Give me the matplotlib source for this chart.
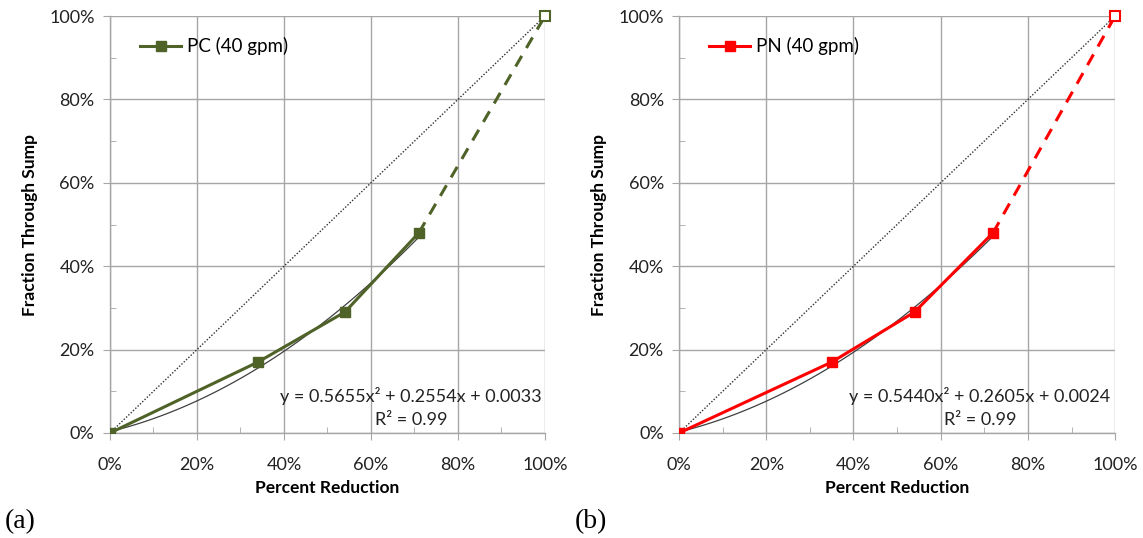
import numpy as np
import matplotlib
matplotlib.use("Agg")
import matplotlib.pyplot as plt
import matplotlib.ticker as mticker
from matplotlib.lines import Line2D

plt.rcParams["font.family"] = ["Lato", "DejaVu Sans"]

# Measured points (percent reduction vs fraction through sump)
pc_x = [0.0, 0.34, 0.54, 0.71]
pc_y = [0.0, 0.17, 0.29, 0.48]
pn_x = [0.0, 0.35, 0.54, 0.72]
pn_y = [0.0, 0.17, 0.29, 0.48]
end_pt = [1.0, 1.0]

# Quadratic trendline coefficients (a, b, c) and R^2
pc_fit = [0.5655, 0.2554, 0.0033]
pn_fit = [0.5440, 0.2605, 0.0024]
r2 = [0.99, 0.99]

C_PC = "#4F6228"
C_PN = "#FF0000"
C_GRID = "#A6A6A6"

fig = plt.figure(figsize=(11.43, 5.38), dpi=100)
ax_a = fig.add_axes([0.0962, 0.1952, 0.3806, 0.775])
ax_b = fig.add_axes([0.5941, 0.1952, 0.3815, 0.775])


def panel(ax, xs, ys, fit, rsq, color, label, eq_x):
    ax.plot([0, 1], [0, 1], color="#303030", linestyle=(0, (1, 1.3)),
            linewidth=1.0, zorder=2)
    xf = np.linspace(0, xs[-1], 100)
    a, b, c = fit
    ax.plot(xf, a * xf ** 2 + b * xf + c, color="#404040", linewidth=0.9, zorder=3)
    ax.plot(xs, ys, color=color, linewidth=2.2, marker="s", markersize=7,
            zorder=4)
    ax.plot([xs[-1], end_pt[0]], [ys[-1], end_pt[1]], color=color,
            linewidth=2.2, linestyle=(0, (4, 3)), zorder=4)
    ax.plot([end_pt[0]], [end_pt[1]], marker="s", markersize=7,
            markerfacecolor="white", markeredgecolor=color,
            markeredgewidth=1.5, linestyle="none", zorder=5, clip_on=False)

    ax.set_xlim(0, 1)
    ax.set_ylim(0, 1)
    ax.xaxis.set_major_locator(mticker.MultipleLocator(0.2))
    ax.yaxis.set_major_locator(mticker.MultipleLocator(0.2))
    ax.xaxis.set_minor_locator(mticker.MultipleLocator(0.1))
    ax.yaxis.set_minor_locator(mticker.MultipleLocator(0.1))
    fmt = mticker.PercentFormatter(xmax=1, decimals=0)
    ax.xaxis.set_major_formatter(fmt)
    ax.yaxis.set_major_formatter(fmt)
    ax.tick_params(which="major", direction="out", length=5, color=C_GRID,
                   labelsize=13, labelcolor="#222222", pad=6)
    ax.tick_params(axis="x", which="major", pad=12)
    ax.tick_params(which="minor", direction="in", length=4, color=C_GRID)
    ax.grid(which="major", color=C_GRID, linewidth=1.0, zorder=0)
    for s in ["top", "right"]:
        ax.spines[s].set_visible(False)
    for s in ["left", "bottom"]:
        ax.spines[s].set_color(C_GRID)
        ax.spines[s].set_linewidth(1.0)

    ax.set_xlabel("Percent Reduction", fontsize=12.5, fontweight="bold", labelpad=5)
    ax.set_ylabel("Fraction Through Sump", fontsize=12.5, fontweight="bold", labelpad=8)

    handle = Line2D([0], [0], color=color, linewidth=2.2, marker="s", markersize=7)
    ax.legend([handle], [label], loc="upper left", bbox_to_anchor=(0.03, 0.99),
              frameon=False, fontsize=13.5, handlelength=2.2, handletextpad=0.3)

    ax.text(eq_x, 0.088,
            f"y = {a:.4f}x\u00b2 + {b:.4f}x + {c:.4f}",
            fontsize=13, ha="center", va="center", color="#222222")
    ax.text(eq_x, 0.03, f"R\u00b2 = {rsq:.2f}", fontsize=13,
            ha="center", va="center", color="#222222")


panel(ax_a, pc_x, pc_y, pc_fit, r2[0], C_PC, "PC (40 gpm)", 0.692)
panel(ax_b, pn_x, pn_y, pn_fit, r2[1], C_PN, "PN (40 gpm)", 0.69)

fig.text(0.004, 0.018, "(a)", fontsize=20, family="Liberation Serif")
fig.text(0.503, 0.018, "(b)", fontsize=20, family="Liberation Serif")

fig.savefig("out.png", dpi=100)
